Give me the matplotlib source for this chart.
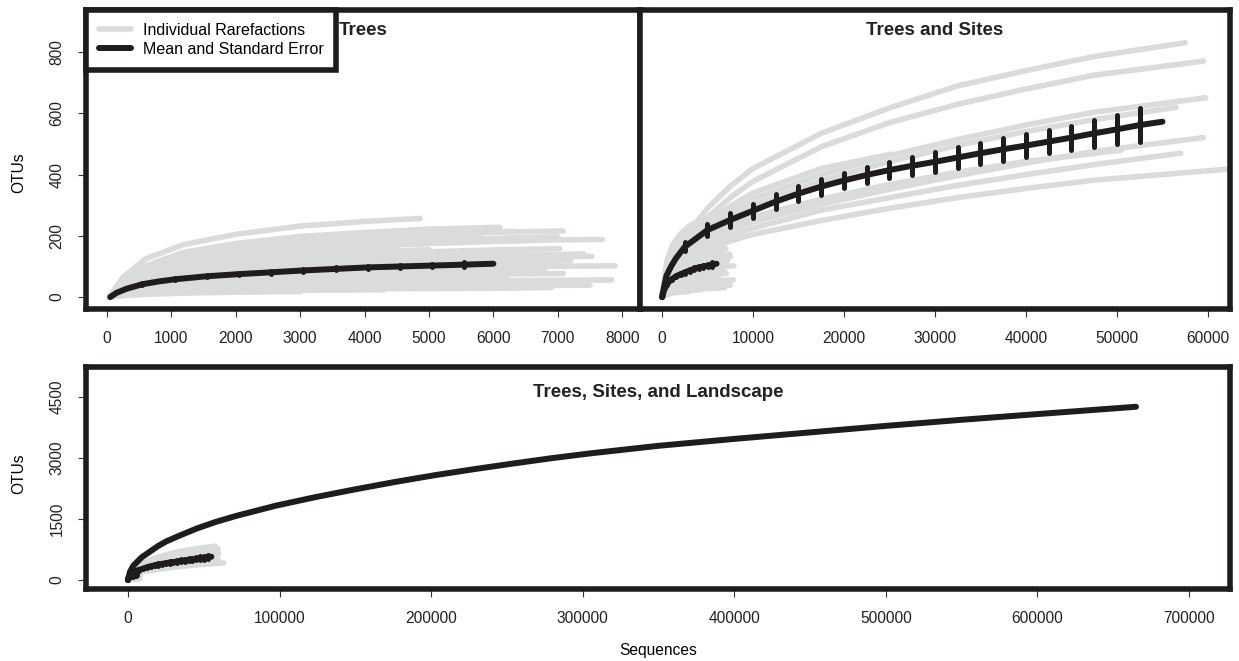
import matplotlib.pyplot as plt
from matplotlib.lines import Line2D

plt.rcParams['font.family'] = ['Liberation Sans', 'DejaVu Sans']

GRAY = '#dadbdc'
BLACK = '#1e1c1d'

# individual tree rarefactions: y read at tree_grid, then the end point
tree_grid = [50, 250, 600, 1200, 2000, 3000, 4000, 5000, 6000, 7000]
tree_curves = [
    [5, 65, 125, 172, 205, 232, 247],
    [4, 53, 102, 147, 175, 198, 211, 222],
    [4, 49, 94, 135, 162, 182, 195, 205, 212],
    [4, 42, 80, 115, 138, 156, 166, 175, 182, 187],
    [2, 23, 44, 63, 75, 85, 90, 95, 99, 101],
    [1, 12, 24, 34, 41, 46, 49, 52, 54, 55],
    [3, 30, 57, 82, 98, 110, 118, 124, 129, 132],
    [1, 9, 17, 24, 29, 32, 34, 36, 38, 40],
    [4, 49, 94, 135, 162, 182, 195, 205, 213],
    [4, 48, 92, 132, 158, 178, 190, 200],
    [4, 42, 81, 116, 139, 157, 167, 176, 183],
    [3, 36, 68, 98, 117, 132, 141, 148, 154, 158],
    [1, 17, 33, 48, 57, 64, 68, 72, 75, 77],
    [1, 9, 17, 24, 28, 32, 34, 36, 37, 38],
    [4, 46, 87, 125, 150, 169, 181, 190],
    [3, 40, 76, 109, 130, 147, 157],
    [3, 34, 64, 92, 111, 125, 133, 140, 146],
    [2, 28, 53, 76, 91, 102, 109, 115],
    [2, 26, 51, 73, 87, 98, 105, 110, 114, 118],
    [2, 20, 39, 56, 67, 76, 81, 85, 88],
    [1, 14, 28, 40, 47, 53, 57, 60, 62],
    [1, 11, 21, 30, 36, 40, 43, 45],
    [1, 7, 13, 18, 22, 25, 27, 28, 29],
    [1, 6, 12, 17, 20, 22],
    [3, 38, 74, 106, 126, 142],
    [2, 24, 46, 66, 79],
    [3, 31, 60, 86, 103, 116, 124, 130, 135, 139],
    [2, 23, 44, 63, 75, 85, 90],
    [1, 17, 32, 46, 55, 62],
    [4, 44, 85, 122, 146, 165, 176, 185, 192],
    [3, 37, 71, 102, 122, 138, 147],
    [0, 5, 9, 13, 16],
]
tree_ends = [
    (4860, 257), (6100, 228), (7080, 216), (7690, 188), (7890, 102),
    (7840, 56), (7530, 133), (7080, 40), (6300, 215), (5400, 203),
    (6620, 186), (7030, 158), (7085, 77), (7500, 39), (5800, 195),
    (4500, 164), (6500, 148), (5600, 117), (7200, 119), (6800, 90),
    (6200, 63), (5200, 46), (6900, 31), (4300, 24), (3300, 147),
    (2600, 85), (7400, 141), (4200, 91), (3600, 64), (7000, 197),
    (5000, 155), (3000, 18),
]

# individual site rarefactions
site_grid = [0, 500, 1000, 2500, 5000, 7500, 10000, 17500, 25000, 32500, 40000, 47500]
site_curves = [
    [0, 85, 120, 195, 290, 362, 420, 535, 618, 690, 740, 786],
    [0, 76, 108, 175, 260, 325, 378, 491, 570, 630, 680, 725],
    [0, 62, 92, 155, 230, 280, 320, 400, 462, 515, 562, 604],
    [0, 60, 88, 150, 220, 265, 300, 380, 443, 496, 541, 580],
    [0, 50, 74, 125, 185, 218, 245, 303, 352, 397, 438, 476],
    [0, 46, 68, 115, 170, 200, 225, 284, 325, 365, 400, 433],
    [0, 42, 62, 104, 155, 183, 205, 250, 290, 325, 355, 382],
    [0, 68, 100, 165, 245, 297, 340, 420],
    [0, 52, 78, 130, 195, 232, 262, 320, 368, 408, 443],
]
site_ends = [
    (57500, 831), (59500, 771), (59750, 651), (56500, 620), (59500, 521),
    (57000, 470), (63000, 420), (25200, 467), (50500, 480),
]

# means
trees_mean_x = [50, 150, 300, 550, 800, 1050, 1550, 2050, 2550, 3050, 3550,
                4050, 4550, 5050, 5550, 6000]
trees_mean_y = [0, 14, 27, 42, 51, 58, 68, 75, 81, 87, 92, 97, 100, 103, 106, 109]
trees_se_x = [550, 1050, 1550, 2050, 2550, 3050, 3550, 4050, 4550, 5050, 5550]
trees_se = [3, 3, 4, 4, 4, 5, 5, 5, 6, 6, 7]

sites_mean_x = [0, 500, 1000, 1500, 2500, 5000, 7500, 10000, 12500, 15000,
                17500, 20000, 22500, 25000, 27500, 30000, 32500, 35000, 37500,
                40000, 42500, 45000, 47500, 50000, 52500, 55000]
sites_mean_y = [0, 70, 100, 125, 164, 219, 252, 282, 312, 338, 361, 381, 399,
                415, 429, 442, 456, 470, 483, 495, 508, 521, 535, 548, 562, 573]
sites_se_x = [2500, 5000, 7500, 10000, 12500, 15000, 17500, 20000, 22500, 25000,
              27500, 30000, 32500, 35000, 37500, 40000, 42500, 45000, 47500,
              50000, 52500]
sites_se = [15, 20, 22, 22, 25, 24, 26, 26, 27, 27, 30, 32, 35, 35, 38, 38, 38,
            39, 44, 48, 56]

land_x = [0, 1300, 3500, 9100, 19600, 25000, 32600, 45600, 58000, 71700, 97800,
          123900, 149900, 176000, 202000, 228200, 254200, 280300, 306400,
          350000, 400000, 450000, 500000, 550000, 600000, 665000]
land_y = [0, 200, 350, 560, 830, 945, 1070, 1270, 1430, 1580, 1830, 2040, 2230,
          2410, 2575, 2725, 2865, 3000, 3120, 3300, 3470, 3630, 3790, 3940,
          4080, 4260]

top_yticks = [0, 200, 400, 600, 800]
left_xticks = [0, 1000, 2000, 3000, 4000, 5000, 6000, 7000, 8000]
right_xticks = [0, 10000, 20000, 30000, 40000, 50000, 60000]
bot_xticks = [0, 100000, 200000, 300000, 400000, 500000, 600000, 700000]
bot_yticks = [0, 1500, 3000, 4500]

fig = plt.figure(figsize=(12.39, 6.61), dpi=100)
ax1 = fig.add_axes([0.0694, 0.5325, 0.4471, 0.4524])
ax2 = fig.add_axes([0.5165, 0.5325, 0.4762, 0.4524])
ax3 = fig.add_axes([0.0694, 0.1089, 0.9233, 0.3359])

line_kw = dict(solid_capstyle='round', solid_joinstyle='round')

for ys, (ex, ey) in zip(tree_curves, tree_ends):
    xs = tree_grid[:len(ys)] + [ex]
    for ax in (ax1, ax2, ax3):
        ax.plot(xs, ys + [ey], color=GRAY, lw=4, zorder=2, **line_kw)

for ys, (ex, ey) in zip(site_curves, site_ends):
    xs = site_grid[:len(ys)] + [ex]
    for ax in (ax2, ax3):
        ax.plot(xs, ys + [ey], color=GRAY, lw=4, zorder=2, **line_kw)

def add_mean(ax, mx, my, sx, se):
    ax.plot(mx, my, color=BLACK, lw=4.3, zorder=3, **line_kw)
    centers = [my[mx.index(x)] for x in sx]
    ax.vlines(sx, [c - s for c, s in zip(centers, se)],
              [c + s for c, s in zip(centers, se)],
              color=BLACK, lw=3.6, zorder=3, capstyle='round')

for ax in (ax1, ax2, ax3):
    add_mean(ax, trees_mean_x, trees_mean_y, trees_se_x, trees_se)
for ax in (ax2, ax3):
    add_mean(ax, sites_mean_x, sites_mean_y, sites_se_x, sites_se)
ax3.plot(land_x, land_y, color=BLACK, lw=4.3, zorder=3, **line_kw)

ax1.set_xlim(-326, 8276)
ax2.set_xlim(-2418, 62418)
ax3.set_xlim(-27700, 727000)
ax1.set_ylim(-39, 938)
ax2.set_ylim(-39, 938)
ax3.set_ylim(-221, 5238)

ax1.set_xticks(left_xticks, [str(t) for t in left_xticks])
ax1.set_yticks(top_yticks, [str(t) for t in top_yticks], rotation=90, va='center')
ax2.set_xticks(right_xticks, [str(t) for t in right_xticks])
ax2.set_yticks([])
ax3.set_xticks(bot_xticks, [str(t) for t in bot_xticks])
ax3.set_yticks(bot_yticks, [str(t) for t in bot_yticks], rotation=90, va='center')

for ax in (ax1, ax2, ax3):
    for sp in ax.spines.values():
        sp.set_linewidth(4)
        sp.set_color(BLACK)
    ax.tick_params(direction='out', length=6, width=0.8, pad=9.5,
                   labelsize=11.2, color='#333333', labelcolor='#222222')

ax1.text(0.5, 0.933, 'Trees', transform=ax1.transAxes, ha='center',
         va='center', fontsize=13.5, fontweight='bold', color='#222222')
ax2.text(0.5, 0.933, 'Trees and Sites', transform=ax2.transAxes, ha='center',
         va='center', fontsize=13.5, fontweight='bold', color='#222222')
ax3.text(0.5, 0.887, 'Trees, Sites, and Landscape', transform=ax3.transAxes,
         ha='center', va='center', fontsize=13.5, fontweight='bold', color='#222222')

fig.text(0.0153, 0.738, 'OTUs', rotation=90, ha='center', va='center', fontsize=11.2)
fig.text(0.0153, 0.283, 'OTUs', rotation=90, ha='center', va='center', fontsize=11.2)
fig.text(0.531, 0.0166, 'Sequences', ha='center', va='center', fontsize=11.2)

handles = [Line2D([], [], color=GRAY, lw=4, solid_capstyle='round'),
           Line2D([], [], color=BLACK, lw=4.3, solid_capstyle='round')]
leg = ax1.legend(handles, ['Individual Rarefactions', 'Mean and Standard Error'],
                 loc='upper left', bbox_to_anchor=(0, 1), borderaxespad=0,
                 fontsize=11.5, fancybox=False, framealpha=1, handlelength=2.0,
                 handletextpad=0.75, labelspacing=0.25, borderpad=0.8)
leg.get_frame().set_edgecolor(BLACK)
leg.get_frame().set_linewidth(4)
leg.set_zorder(5)

fig.savefig('out.png', dpi=100)
